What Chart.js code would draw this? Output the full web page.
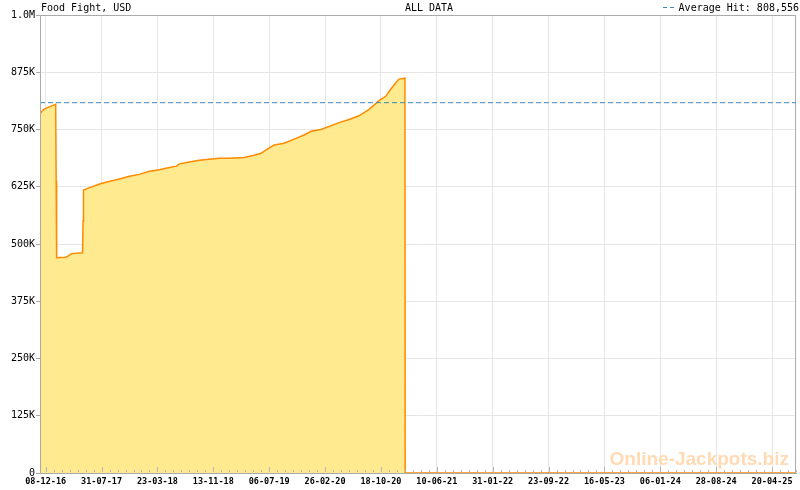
<!DOCTYPE html>
<html>
<head>
<meta charset="utf-8">
<script src="https://cdn.jsdelivr.net/npm/chart.js@4.4.1/dist/chart.umd.min.js"></script>
<style>
    html, body { margin: 0; padding: 0; background: #fff; }
    canvas { display: block; }
</style>
</head>
<body>
<canvas id="ChartJackpot" width="800" height="490"></canvas>
<script>
// jackpot history
const dates = [
    '2016-11-14', '2016-11-21', '2016-11-30', '2016-12-25', '2017-01-19', '2017-01-21',
    '2017-01-23', '2017-03-02', '2017-03-10', '2017-03-27', '2017-05-12', '2017-05-14',
    '2017-05-16', '2017-06-11', '2017-07-23', '2017-09-03', '2017-10-15', '2017-11-25',
    '2018-01-06', '2018-02-17', '2018-03-31', '2018-05-12', '2018-06-11', '2018-06-23',
    '2018-08-04', '2018-09-15', '2018-10-27', '2018-12-08', '2019-01-19', '2019-03-23',
    '2019-05-04', '2019-06-02', '2019-06-28', '2019-07-27', '2019-09-07', '2019-10-19',
    '2019-11-30', '2019-12-29', '2020-02-09', '2020-04-25', '2020-06-06', '2020-07-18',
    '2020-08-29', '2020-10-10', '2020-11-08', '2020-11-21', '2020-12-12', '2021-01-02',
    '2021-01-27', '2021-01-28', '2025-07-30'
];
const jackpot = [
    785000, 789000, 794000, 800000, 805000, 638000,
    470000, 471000, 473000, 479000, 481000, 550000,
    618000, 623000, 631000, 637000, 642000, 648000,
    652000, 659000, 662000, 667000, 670000, 675000,
    679000, 683000, 685000, 687000, 687000, 689000,
    694000, 698000, 707000, 716000, 720000, 729000,
    738000, 746000, 750000, 765000, 772000, 780000,
    794000, 813000, 823000, 833000, 847000, 860000,
    862000, 0, 0
];
const averageHit = 808556;

const xTickLabels = ['08-12-16', '31-07-17', '23-03-18', '13-11-18', '06-07-19', '26-02-20', '18-10-20',
    '10-06-21', '31-01-22', '23-09-22', '16-05-23', '06-01-24', '28-08-24', '20-04-25'];
const yTickLabels = ['0', '125K', '250K', '375K', '500K', '625K', '750K', '875K', '1.0M'];
const yStep = 125000;

const minorPerMajor = 7;

function dia(iso) {
    return Date.parse(iso) / 864e5;
}

function diaDoRotulo(r) {
    let p = r.split('-');
    return dia(`20${p[2]}-${p[1]}-${p[0]}`);
}

const majorDias = xTickLabels.map(diaDoRotulo);
const xMin = dia(dates[0]);
const xMax = dia(dates[dates.length - 1]);

// major + minor tick positions
let tickDias = [];
for (let i = 0; i < majorDias.length; i++) {
    let passo = (i < majorDias.length - 1 ? majorDias[i + 1] - majorDias[i] : majorDias[i] - majorDias[i - 1]) / minorPerMajor;
    for (let k = 0; k < minorPerMajor; k++) {
        let v = majorDias[i] + passo * k;
        if (v <= xMax) tickDias.push({ value: v, major: k === 0 });
    }
}

const pontos = dates.map((d, i) => ({ x: dia(d), y: jackpot[i] }));

const fonteMono = '"DejaVu Sans Mono", monospace';

const moldura = {
    id: 'moldura',
    beforeDatasetsDraw(chart) {
        const ctx = chart.ctx;
        const a = chart.chartArea;
        ctx.save();
        // top and right edges of the box
        ctx.strokeStyle = '#aaaaaa';
        ctx.lineWidth = 1;
        ctx.beginPath();
        ctx.moveTo(a.left, a.top + 0.5);
        ctx.lineTo(a.right - 0.5, a.top + 0.5);
        ctx.lineTo(a.right - 0.5, a.bottom);
        ctx.stroke();
        ctx.restore();
    },
    afterDatasetsDraw(chart) {
        const ctx = chart.ctx;
        const a = chart.chartArea;
        const x = chart.scales.x;
        ctx.save();

        // watermark
        ctx.font = 'bold 19px "Liberation Sans", Arial, sans-serif';
        ctx.fillStyle = '#ffdab3';
        ctx.textAlign = 'right';
        ctx.textBaseline = 'alphabetic';
        ctx.fillText('Online-Jackpots.biz', 789, 465);

        // small tick marks inside the plot
        ctx.strokeStyle = '#b4b4b4';
        ctx.lineWidth = 1;
        tickDias.forEach(t => {
            let px = Math.round(x.getPixelForValue(t.value)) + 0.5;
            ctx.beginPath();
            ctx.moveTo(px, a.bottom - 1);
            ctx.lineTo(px, a.bottom - (t.major ? 6 : 3));
            ctx.stroke();
        });

        // left axis line stays visible over the fill
        ctx.strokeStyle = '#aaaaaa';
        ctx.beginPath();
        ctx.moveTo(a.left + 0.5, a.top);
        ctx.lineTo(a.left + 0.5, a.bottom);
        ctx.stroke();
        ctx.restore();
    },
    afterDraw(chart) {
        const ctx = chart.ctx;
        ctx.save();
        ctx.font = '10px ' + fonteMono;
        ctx.fillStyle = '#000';
        ctx.textBaseline = 'alphabetic';
        ctx.textAlign = 'left';
        ctx.fillText('Food Fight, USD', 41, 11);
        ctx.textAlign = 'center';
        ctx.fillText('ALL DATA', 429, 11);
        ctx.textAlign = 'right';
        ctx.fillText('Average Hit: ' + averageHit.toLocaleString('en-US'), 799, 11);

        ctx.strokeStyle = '#3b87b8';
        ctx.setLineDash([4, 3]);
        ctx.beginPath();
        ctx.moveTo(663, 7.5);
        ctx.lineTo(677, 7.5);
        ctx.stroke();
        ctx.restore();
    }
};

const chartJackpot = new Chart(document.getElementById('ChartJackpot'), {
    type: 'line',
    data: {
        datasets: [{
            label: 'Average Hit',
            data: [{ x: xMin, y: averageHit }, { x: xMax, y: averageHit }],
            borderColor: '#3b87b8',
            borderWidth: 1,
            borderDash: [5, 3],
            pointRadius: 0,
            fill: false
        }, {
            label: 'Food Fight',
            data: pontos,
            borderColor: '#ff8a00',
            backgroundColor: '#ffea90',
            borderWidth: 1.5,
            pointRadius: 0,
            fill: 'origin',
            tension: 0
        }]
    },
    options: {
        responsive: false,
        animation: false,
        layout: { padding: { top: 15, right: 2, left: 0, bottom: 0 } },
        plugins: {
            legend: { display: false },
            tooltip: { enabled: false },
            title: { display: false }
        },
        scales: {
            x: {
                type: 'linear',
                min: xMin,
                max: xMax,
                afterBuildTicks: (scale) => {
                    scale.ticks = tickDias.map(t => ({ value: t.value, major: t.major }));
                },
                afterFit: (scale) => { scale.height = 17; },
                border: { color: '#aaaaaa' },
                grid: {
                    drawTicks: false,
                    color: (c) => (c.tick && c.tick.major ? '#e6e6e6' : 'rgba(0,0,0,0)')
                },
                ticks: {
                    autoSkip: false,
                    maxRotation: 0,
                    padding: 4,
                    color: '#000',
                    font: { family: fonteMono, size: 8.5, weight: 'bold' },
                    callback: function (v, i) {
                        let j = majorDias.findIndex(m => Math.abs(m - v) < 0.01);
                        return j >= 0 ? xTickLabels[j] : '';
                    }
                }
            },
            y: {
                min: 0,
                max: yStep * (yTickLabels.length - 1),
                afterFit: (scale) => { scale.width = 40; },
                border: { color: '#aaaaaa' },
                grid: {
                    color: '#e6e6e6',
                    tickColor: '#aaaaaa',
                    tickLength: 4
                },
                ticks: {
                    stepSize: yStep,
                    autoSkip: false,
                    padding: 1,
                    color: '#000',
                    font: { family: fonteMono, size: 10 },
                    callback: (v) => yTickLabels[Math.round(v / yStep)]
                }
            }
        }
    },
    plugins: [moldura]
});
</script>
</body>
</html>
